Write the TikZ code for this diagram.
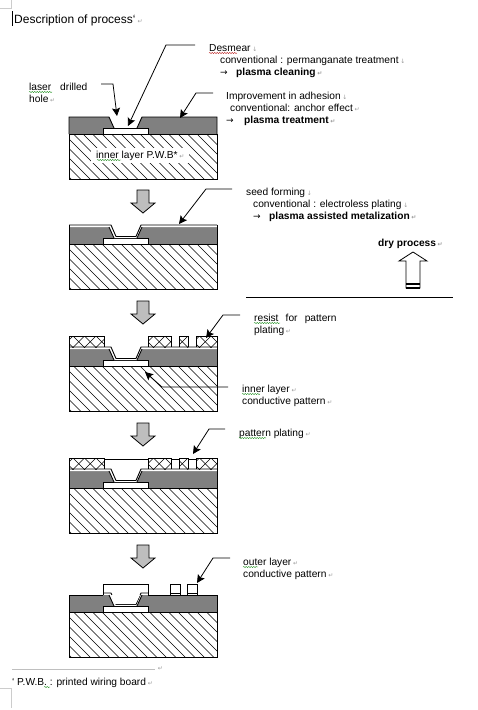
\documentclass[tikz,border=0pt]{standalone}
\usepackage{fontspec}
\setmainfont{Liberation Sans}
\newfontfamily\markfont{DejaVu Sans}
\usetikzlibrary{arrows.meta, decorations.pathmorphing}
\definecolor{dielgray}{HTML}{808080}
\definecolor{blockgray}{HTML}{BEBEBE}
\newcommand{\retmark}{\,{\markfont\fontsize{6}{6}\selectfont\color{gray!80}↵}}
\newcommand{\brkmark}{\,{\markfont\fontsize{6}{6}\selectfont\color{gray!80}↓}}
\tikzset{
  lbl/.style={anchor=base west, inner sep=0pt, font=\fontsize{10.2}{12}\selectfont},
  lblb/.style={lbl, font=\fontsize{10.2}{12}\selectfont\bfseries},
  leader/.style={draw=black, line width=0.8pt, -{Stealth[length=8pt,width=8pt,inset=1.5pt]}},
  blockarrow/.style={draw=black, fill=blockgray, line width=0.8pt},
  board/.style={draw=black, line width=0.9pt},
  squig/.style={line width=0.4pt, decorate, decoration={snake, amplitude=0.5pt, segment length=2.5pt}},
}
% --- Board without the top layers: dielectric, pad, hatched core ---
\newcommand{\pwbbase}{
  \fill[dielgray] (69,-17) -- (109,-17) -- (114,-5.5) -- (137,-5.5) -- (142,-17) --
    (217,-17) -- (217,0) -- (69,0) -- cycle;
  \draw[white, fill=white] (103,-6) rectangle (148,0);
  \begin{scope}
    \clip (69,0) rectangle (217,45.5);
    \foreach \h in {-50,-40.5,...,220} {
      \draw[black, line width=0.5pt] (\h,0) -- ({\h+46},46);
    }
  \end{scope}
  \draw[board] (69,0) rectangle (217,45.5);
  \draw[board] (103,0) -- (103,-6) -- (148,-6) -- (148,0);
}
% --- Thin seed layer on the dielectric ---
\newcommand{\pwbseed}{
  \fill[white] (69,-19) -- (111,-19) -- (116,-7.5) -- (136,-7.5) -- (141,-19) -- (217,-19) --
    (217,-17) -- (142,-17) -- (137,-5.8) -- (114,-5.8) -- (109,-17) -- (69,-17) -- cycle;
  \draw[board] (69,-19) -- (111,-19) -- (116,-7.5) -- (136,-7.5) -- (141,-19) -- (217,-19);
  \draw[board] (109,-17) -- (114,-6);
  \draw[board] (142,-17) -- (137,-6);
}
% --- One box of crossed resist ---
\newcommand{\resistbox}[2]{
  \begin{scope}
    \clip (#1,-30) rectangle (#2,-19);
    \foreach \h in {50,61.5,...,235} {
      \draw[black, line width=0.5pt] (\h,-30) -- ({\h+14},-16);
      \draw[black, line width=0.5pt] (\h,-30) -- ({\h-14},-16);
    }
  \end{scope}
  \draw[board] (#1,-19) -- (#1,-30) -- (#2,-30) -- (#2,-19);
}
\newcommand{\blockdown}[1]{
  \draw[blockarrow, shift={(0,#1)}] (137,0) -- (149,0) -- (149,13) -- (155,13) -- (143,23) --
    (131,13) -- (137,13) -- cycle;
}
\begin{document}
\begin{tikzpicture}[x=1pt, y=-1pt]
  \useasboundingbox (0,0) rectangle (477,710);
  % --- Page marks ---
  \draw[gray!40, line width=0.6pt] (0,8) -- (11,8) -- (11,0);
  \draw[gray!40, line width=0.6pt] (0,688) -- (11,688) -- (11,708);
  \fill[black] (11.5,11) rectangle (13,25.5);
  \node[lbl, font=\fontsize{12}{14}\selectfont] (title) at (14,23) {Description of process`\retmark};
  % --- Step 1: laser drilled hole ---
  \begin{scope}[shift={(0,134)}]
    \pwbbase
    \draw[board] (69,0) -- (69,-17) -- (109,-17) -- (114,-6);
    \draw[board] (137,-6) -- (142,-17) -- (217,-17) -- (217,0);
    \node[lbl, fill=white, inner xsep=5pt, inner ysep=3pt] (corelabel) at (91,24) {inner layer P.W.B*\retmark};
  \end{scope}
  \node[lbl] (laser) at (29,90) {laser};
  \node[lbl] (drilled) at (60,90) {drilled};
  \node[lbl] (hole) at (29,102) {hole\retmark};
  \coordinate (laserA) at (101,84);
  \coordinate (laserB) at (113,84);
  \coordinate (laserC) at (117,116);
  \draw[leader] (laserA) -- (laserB) -- (laserC);
  \node[lbl] (desmear) at (209,51) {Desmear\brkmark};
  \node[lbl] (desmearA) at (220,63) {conventional : permanganate treatment\brkmark};
  \node[lbl] (desmearB) at (220,75) {\markfont\fontsize{9}{9}\selectfont →};
  \node[lblb] (desmearC) at (236,75) {plasma cleaning\retmark};
  \coordinate (desA) at (195,45);
  \coordinate (desB) at (166,45);
  \coordinate (desC) at (128,126);
  \draw[leader] (desA) -- (desB) -- (desC);
  \node[lbl] (adhesion) at (226,99) {Improvement in adhesion\brkmark};
  \node[lbl] (adhesionA) at (230,111) {conventional: anchor effect\retmark};
  \node[lbl] (adhesionB) at (226,123) {\markfont\fontsize{9}{9}\selectfont →};
  \node[lblb] (adhesionC) at (244,123) {plasma treatment\retmark};
  \coordinate (adhA) at (213,93);
  \coordinate (adhB) at (196,93);
  \coordinate (adhC) at (180,118);
  \draw[leader] (adhA) -- (adhB) -- (adhC);
  % --- Step 2: seed forming ---
  \blockdown{190}
  \begin{scope}[shift={(0,244)}]
    \pwbbase
    \pwbseed
    \draw[board] (69,0) -- (69,-19);
    \draw[board] (217,0) -- (217,-19);
  \end{scope}
  \node[lbl] (seed) at (246,195) {seed forming\brkmark};
  \node[lbl] (seedA) at (253,207) {conventional : electroless plating\brkmark};
  \node[lbl] (seedB) at (253,219) {\markfont\fontsize{9}{9}\selectfont →};
  \node[lblb] (seedC) at (269,219) {plasma assisted metalization\retmark};
  \coordinate (seeA) at (232,189);
  \coordinate (seeB) at (206,189);
  \coordinate (seeC) at (179,224);
  \draw[leader] (seeA) -- (seeB) -- (seeC);
  % --- Dry process mark ---
  \node[lblb] (dry) at (378,246) {dry process\retmark};
  \draw[draw=black, fill=white, line width=0.8pt] (406,288) -- (406,261) -- (399,261) -- (413,252) --
    (427,261) -- (420,261) -- (420,288) -- cycle;
  \fill[black] (406,283) rectangle (420,285);
  \fill[black] (406,286.5) rectangle (420,288.5);
  \coordinate (dividerA) at (246,297);
  \coordinate (dividerB) at (453,297);
  \draw[black, line width=0.8pt] (dividerA) -- (dividerB);
  % --- Step 3: resist for pattern plating ---
  \blockdown{301}
  \begin{scope}[shift={(0,366)}]
    \pwbbase
    \pwbseed
    \draw[board] (69,0) -- (69,-19);
    \draw[board] (217,0) -- (217,-19);
    \foreach \a/\b in {69/104,148/171,179/188,196/217} {
      \resistbox{\a}{\b}
    }
  \end{scope}
  \node[lbl] (resist) at (254,321) {resist\hspace{0.7em}for\hspace{0.7em}pattern};
  \node[lbl] (resistA) at (254,333) {plating\retmark};
  \coordinate (resA) at (240,315);
  \coordinate (resB) at (223,315);
  \coordinate (resC) at (206,338);
  \draw[leader] (resA) -- (resB) -- (resC);
  \node[lbl] (innerA) at (242,392) {inner layer\retmark};
  \node[lbl] (innerB) at (242,404) {conductive pattern\retmark};
  \coordinate (innA) at (228,387);
  \coordinate (innB) at (162,387);
  \coordinate (innC) at (145,372);
  \draw[leader] (innA) -- (innB) -- (innC);
  % --- Step 4: pattern plating ---
  \blockdown{423}
  \begin{scope}[shift={(0,488)}]
    \pwbbase
    \pwbseed
    \draw[board] (69,0) -- (69,-19);
    \draw[board] (217,0) -- (217,-19);
    \foreach \a/\b in {69/104,148/171,179/188,196/217} {
      \resistbox{\a}{\b}
    }
    \draw[board] (104,-28.5) -- (148,-28.5);
    \draw[board] (171,-28.5) -- (179,-28.5);
    \draw[board] (188,-28.5) -- (196,-28.5);
  \end{scope}
  \node[lbl] (plating) at (239,436) {pattern plating\retmark};
  \coordinate (patA) at (225,429);
  \coordinate (patB) at (209,429);
  \coordinate (patC) at (193,454);
  \draw[leader] (patA) -- (patB) -- (patC);
  % --- Step 5: outer layer ---
  \blockdown{545}
  \begin{scope}[shift={(0,612)}]
    \pwbbase
    \draw[board] (69,0) -- (69,-17) -- (103,-17);
    \draw[board] (148,-17) -- (217,-17) -- (217,0);
    \fill[white] (103.5,-28) rectangle (147.5,-17);
    \draw[board] (103,-17) -- (103,-28) -- (148,-28) -- (148,-17);
    \draw[board] (103,-19) -- (111,-19) -- (116,-7.5) -- (136,-7.5) -- (141,-19) -- (148,-19);
    \draw[board] (109,-17) -- (114,-6);
    \draw[board] (142,-17) -- (137,-6);
    \fill[white] (111,-17) -- (114.5,-8) -- (135.5,-8) -- (140,-17) -- cycle;
    \foreach \a/\b in {170/180,187/197} {
      \fill[white] (\a,-28) rectangle (\b,-17);
      \draw[board] (\a,-17) -- (\a,-28) -- (\b,-28) -- (\b,-17);
      \draw[board] (\a,-19) -- (\b,-19);
    }
  \end{scope}
  \node[lbl] (outerA) at (243,565) {outer layer\retmark};
  \node[lbl] (outerB) at (243,577) {conductive pattern\retmark};
  \coordinate (outA) at (230,558);
  \coordinate (outB) at (213,558);
  \coordinate (outC) at (197,583);
  \draw[leader] (outA) -- (outB) -- (outC);
  % --- Footnote ---
  \draw[gray!50, line width=0.7pt] (12,669) -- (155,669);
  \node[lbl] (footrule) at (156,670) {\retmark};
  \node[lbl] (footstar) at (12,685) {`};
  \node[lbl] (footnote) at (17,685) {P.W.B. : printed wiring board\retmark};
  % --- Spelling marks ---
  \draw[squig, red!70!black] (209,53) -- (237,53);
  \draw[squig, green!50!black] (29,92) -- (52,92);
  \draw[squig, green!50!black] (97,160) -- (121,160);
  \draw[squig, green!50!black] (254,323) -- (280,323);
  \draw[squig, green!50!black] (242,394) -- (260,394);
  \draw[squig, green!50!black] (239,438) -- (266,438);
  \draw[squig, green!50!black] (243,567) -- (258,567);
  \draw[squig, green!50!black] (44,687) -- (50,687);
\end{tikzpicture}
\end{document}
